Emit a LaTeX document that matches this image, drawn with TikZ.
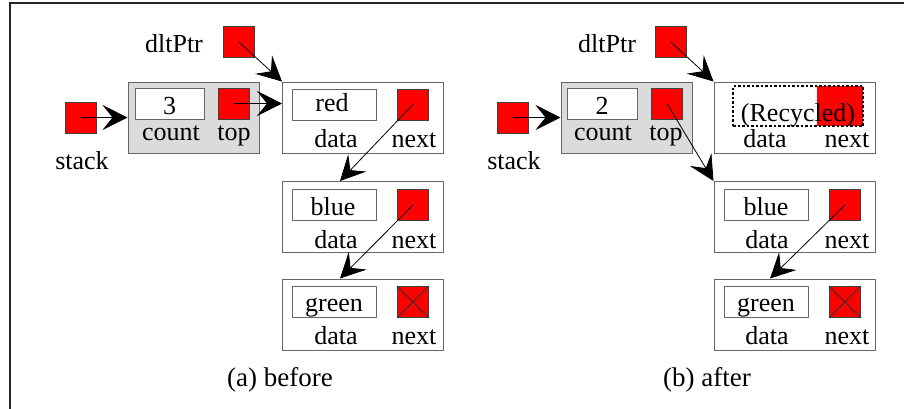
\documentclass[tikz,border=0pt]{standalone}
\usepackage{fontspec}
\setmainfont{Liberation Serif}
\usetikzlibrary{arrows.meta}

\begin{document}
\begin{tikzpicture}[x=1pt,y=-1pt,
    every node/.style={inner sep=0pt},
    txt/.style={font=\fontsize{26}{30}\selectfont, anchor=base},
    ptr/.style={draw=black!75, line width=0.8pt, fill=red, minimum size=31pt},
    field/.style={draw=black!60, line width=1pt, fill=white, minimum width=84pt, minimum height=31pt},
    rec/.style={draw=black!60, line width=1pt, minimum width=161pt, minimum height=71pt},
    hdr/.style={rec, fill=black!14, minimum width=131pt},
    nil/.style={black!80, line width=0.8pt},
    link/.style={-{Stealth[length=25pt,width=25pt,inset=10pt]}, line width=0.8pt}]
    \useasboundingbox (0,0) rectangle (904,408);
    \draw[line width=2pt, black!85] (10,410) -- (10,3) -- (906,3);

    % (a) before
    \node[ptr] (aDlt) at (239,42) {};
    \node[txt] (aDltLbl) at (174,52) {dltPtr};
    \node[ptr] (aStack) at (81,117.5) {};
    \node[txt] (aStackLbl) at (82,169) {stack};
    \node[hdr] (aHead) at (193.5,117.5) {};
    \node[field, minimum width=69pt] (aCount) at (169.5,103.5) {};
    \node[txt] (aCountVal) at (169.5,114) {3};
    \node[ptr] (aTop) at (234,103.5) {};
    \node[txt] (aCountLbl) at (171,140) {count};
    \node[txt] (aTopLbl) at (234,140) {top};

    \node[rec] (aNode1) at (363,117.5) {};
    \node[field] (aData1) at (334.5,104.5) {};
    \node[ptr] (aNext1) at (413,104.5) {};
    \node[txt] (aVal1) at (332,111) {red};
    \node[txt] (aDataLbl1) at (336,147) {data};
    \node[txt] (aNextLbl1) at (414,147) {next};

    \node[rec] (aNode2) at (362.5,217) {};
    \node[field] (aData2) at (334,204.5) {};
    \node[ptr] (aNext2) at (413,205) {};
    \node[txt] (aVal2) at (333,215) {blue};
    \node[txt] (aDataLbl2) at (336,248) {data};
    \node[txt] (aNextLbl2) at (414,248) {next};

    \node[rec] (aNode3) at (362.5,314.5) {};
    \node[field] (aData3) at (334,302) {};
    \node[ptr] (aNext3) at (413,302) {};
    \draw[nil] (aNext3.north west) -- (aNext3.south east);
    \draw[nil] (aNext3.north east) -- (aNext3.south west);
    \node[txt] (aVal3) at (334,311) {green};
    \node[txt] (aDataLbl3) at (336,344) {data};
    \node[txt] (aNextLbl3) at (414,344) {next};

    \node[txt, font=\fontsize{27}{31}\selectfont] (aCap) at (280,386) {(a) before};

    \draw[link] (aStack.center) -- (aHead.west);
    \draw[link] (aTop.center) -- (aTop.center -| aNode1.west);
    \draw[link] (aDlt.center) -- (aNode1.north west);
    \draw[link] (aNext1.center) -- ([xshift=6pt]aData2.center |- aNode2.north);
    \draw[link] (aNext2.center) -- ([xshift=6pt]aData3.center |- aNode3.north);

    % (b) after
    \node[ptr] (bDlt) at (671,42) {};
    \node[txt] (bDltLbl) at (607,52) {dltPtr};
    \node[ptr] (bStack) at (513,117.5) {};
    \node[txt] (bStackLbl) at (514,169) {stack};
    \node[hdr] (bHead) at (626.5,117.5) {};
    \node[field, minimum width=70pt] (bCount) at (602,103.5) {};
    \node[txt] (bCountVal) at (602,114) {2};
    \node[ptr] (bTop) at (667,103.5) {};
    \node[txt] (bCountLbl) at (603,140) {count};
    \node[txt] (bTopLbl) at (666,140) {top};

    \node[rec] (bNode1) at (794.5,117.5) {};
    \fill[red] (817,86) rectangle (863,126);
    \node[txt] (bVal1) at (798,121) {(Recycled)};
    \node[draw=black, line width=2.5pt, dash pattern=on 2.5pt off 2pt, minimum width=130pt, minimum height=40pt] (bData1) at (798,106) {};
    \node[txt] (bDataLbl1) at (765,147) {data};
    \node[txt] (bNextLbl1) at (847,147) {next};

    \node[rec] (bNode2) at (794.5,217) {};
    \node[field] (bData2) at (766,204.5) {};
    \node[ptr] (bNext2) at (845,205) {};
    \node[txt] (bVal2) at (766,215) {blue};
    \node[txt] (bDataLbl2) at (767,248) {data};
    \node[txt] (bNextLbl2) at (847,248) {next};

    \node[rec] (bNode3) at (794.5,314.5) {};
    \node[field] (bData3) at (766,302) {};
    \node[ptr] (bNext3) at (845,302) {};
    \draw[nil] (bNext3.north west) -- (bNext3.south east);
    \draw[nil] (bNext3.north east) -- (bNext3.south west);
    \node[txt] (bVal3) at (766,311) {green};
    \node[txt] (bDataLbl3) at (767,344) {data};
    \node[txt] (bNextLbl3) at (847,344) {next};

    \node[txt, font=\fontsize{27}{31}\selectfont] (bCap) at (707,386) {(b) after};

    \draw[link] (bStack.center) -- (bHead.west);
    \draw[link] (bDlt.center) -- (bNode1.north west);
    \draw[link] (bTop.center) -- (bNode2.north west);
    \draw[link] (bNext2.center) -- ([xshift=4pt]bData3.center |- bNode3.north);
  \end{tikzpicture}
\end{document}
